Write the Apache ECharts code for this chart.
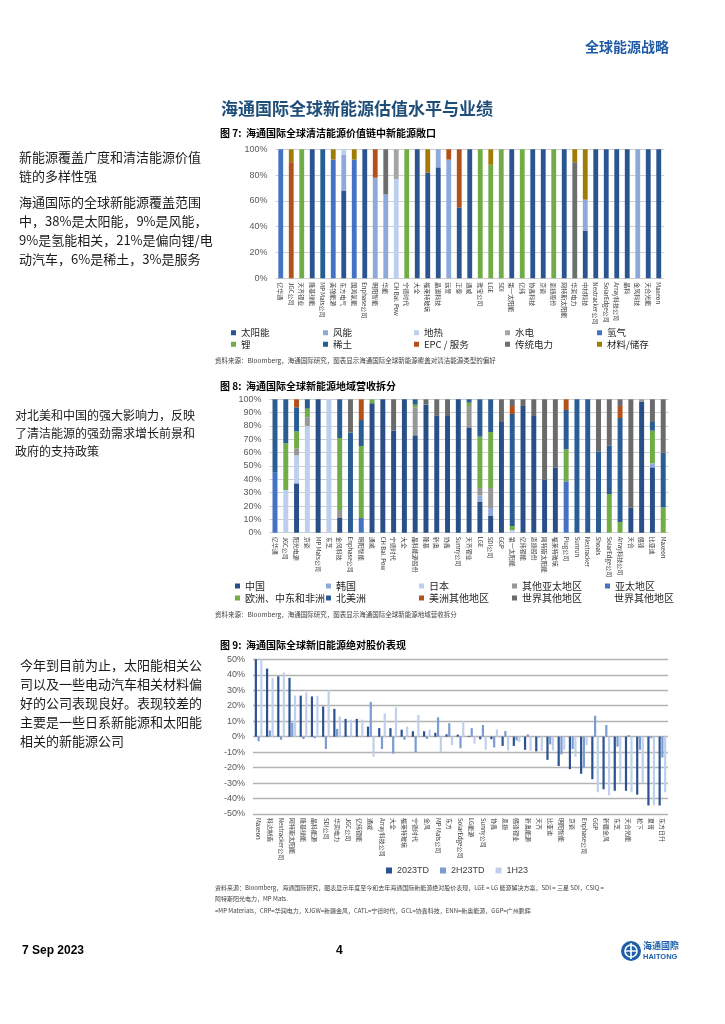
<!DOCTYPE html>
<html><head><meta charset="utf-8">
<script src="https://cdn.jsdelivr.net/npm/echarts@6/dist/echarts.min.js"></script>
<style>html,body{margin:0;padding:0;background:#fff}#c{width:725px;height:1024px}</style>
</head><body><div id="c"></div>
<script>
// ---------- Figure 7 data ----------
const fig7Categories = ['亿华通','JGC公司','天齐锂业','隆基绿能','MP Mats公司','美锦能源','东方电气','国鸿氢能','Enphase公司','明阳智能','华能','CH Bal. Pow','宁德时代','大全','福莱特玻璃','晶澳科技','远景','正泰','通威','雅宝公司','LGE','SDI','第一太阳能','亿纬','协鑫科技','京瓷','恩捷股份','阿特斯太阳能','华润电力','中材科技','Nextracker公司','SolarEdge公司','Array科技公司','晶科','金风科技','天合光能','Maxeon'];
const fig7Solar = [0,0,0,100,0,0,68,0,100,0, 0,0,0,100,82,86,0,55,100,0, 0,0,100,0,100,100,0,100,0,37, 100,100,100,100,0,100,100];
const fig7Wind  = [0,0,0,0,0,0,28,0,0,78, 65,0,0,0,0,14,92,0,0,0, 0,0,0,0,0,0,0,0,0,24, 0,0,0,0,100,0,0];
const fig7Geo   = [0,0,0,0,0,0,4,0,0,0, 0,77,0,0,0,0,0,0,0,0, 0,0,0,0,0,0,0,0,0,0, 0,0,0,0,0,0,0];
const fig7Hydro = [0,0,0,0,0,0,0,0,0,0, 0,23,0,0,0,0,0,0,0,0, 0,0,0,0,0,0,0,0,0,0, 0,0,0,0,0,0,0];
const fig7H2    = [100,0,0,0,0,92,0,92,0,0, 0,0,0,0,0,0,0,0,0,0, 0,0,0,0,0,0,0,0,0,0, 0,0,0,0,0,0,0];
const fig7Li    = [0,0,100,0,0,0,0,0,0,0, 0,0,100,0,0,0,0,0,0,100, 88,100,0,100,0,0,100,0,0,0, 0,0,0,0,0,0,0];
const fig7RE    = [0,0,0,0,100,0,0,0,0,0, 0,0,0,0,0,0,0,0,0,0, 0,0,0,0,0,0,0,0,0,0, 0,0,0,0,0,0,0];
const fig7EPC   = [0,90,0,0,0,0,0,0,0,22, 0,0,0,0,0,0,8,45,0,0, 0,0,0,0,0,0,0,0,0,0, 0,0,0,0,0,0,0];
const fig7Trad  = [0,0,0,0,0,0,0,0,0,0, 35,0,0,0,0,0,0,0,0,0, 0,0,0,0,0,0,0,0,90,0, 0,0,0,0,0,0,0];
const fig7Mat   = [0,10,0,0,0,8,0,8,0,0, 0,0,0,0,18,0,0,0,0,0, 12,0,0,0,0,0,0,0,10,39, 0,0,0,0,0,0,0];
const fig7Names = ['太阳能','风能','地热','水电','氢气','锂','稀土','EPC / 服务','传统电力','材料/储存'];
const fig7Ticks = [0,20,40,60,80,100];

// ---------- Figure 8 data ----------
const fig8Categories = ['亿华通','JGC公司','阳光电源','京瓷','MP Mats公司','东芝','金风科技','Enphase公司','明阳智能','通威','CH Bal. Pow','宁德时代','大全','晶科能源股份','隆基','新奥','协鑫','Sunny公司','天齐锂业','LGE','SDI公司','GGP','第一太阳能','亿纬锂能','恩捷股份','阿特斯太阳能','福莱特玻璃','Plug公司','Sunrun','Nextracker','Shoals','SolarEdge公司','Array科技公司','天合','赣锋','比亚迪','Maxeon'];
const fig8China   = [0,0,37,0,100,0,11,0,0,97, 100,76.5,100,73,96,88,87.5,100,79,23, 12.5,83,0,95,87.5,40,49,0,0,0, 0,0,0,19,98,49,0];
const fig8Korea   = [0,0,0,0,0,0,0,0,0,0, 0,0,0,0,0,0,0,0,0,5, 6,0,0,0,0,0,0,0,0,0, 0,0,0,0,0,3,0];
const fig8Japan   = [0,32,21,80,0,100,0,0,0,0, 0,0,0,0,0,0,0,0,0,0, 0,0,2,0,0,0,0,0,0,0, 0,0,0,0,0,0,0];
const fig8OthAPAC = [0,0,5,6.5,0,0,6,0,0,0, 0,0,0,21,0,0,0,0,16,5.5, 15,0,0,0,0,0,0,0,0,0, 0,0,0,0,2,0,0];
const fig8APAC    = [45,0,0,0,0,0,0,0,11,0, 0,0,0,0,0,0,0,0,0,0, 0,0,0,0,0,0,0,38.5,0,0, 0,0,0,0,0,0,0];
const fig8EMEA    = [0,35,13,6.5,0,0,54,0,54,3, 0,0,0,2,0,0,0,0,2.5,38.5, 42,0,3,0,0,0,0,24,0,0, 0,29,8,0,0,24.5,19];
const fig8NA      = [55,33,18,7,0,0,29,75,19.5,0, 0,0,0,4,0,0,0,0,2.5,28, 24.5,0,84,0,0,0,0,29.5,100,100, 61,36.5,78,0,0,6.5,41];
const fig8OthAm   = [0,0,6,0,0,0,0,0,15.5,0, 0,0,0,0,0,0,0,0,0,0, 0,0,6,0,0,0,0,8,0,0, 0,0,9,0,0,0,0];
const fig8RoW     = [0,0,0,0,0,0,0,25,0,0, 0,23.5,0,0,4,12,12.5,0,0,0, 0,17,5,5,12.5,60,51,0,0,0, 39,34.5,5,81,0,17,40];
const fig8Names = ['中国','韩国','日本','其他亚太地区','亚太地区','欧洲、中东和非洲','北美洲','美洲其他地区','世界其他地区'];
const fig8Ticks = [0,10,20,30,40,50,60,70,80,90,100];

// ---------- Figure 9 data ----------
const fig9Categories = ['Maxeon','科达制造','Nextracker公司','阿特斯太阳能','隆基绿能','晶科能源','SDI公司','华润电力','JGC公司','亿纬锂能','通威','Array科技公司','大全','福莱特玻璃','宁德时代','金风','MP Mats公司','东方','SolarEdge公司','LG能源','Sunny公司','协鑫','恩捷','赣锋锂业','新奥能源','天齐','比亚迪','明阳智能','京瓷','Enphase公司','GGP','新疆金风','东芝','天合光能','松下','夏普','东方日升'];
const fig9YTD = [50,44,39,38,26.5,26,19.5,18,11.5,11.5, 6.5,5.5,5.5,4.5,3.5,3.5,2.5,1.5,1.3,0.5, -1.7,-1.7,-6,-6,-8.5,-9.5,-15,-19,-21,-24, -27.5,-34,-35,-35,-37.5,-44.5,-44.5];
const fig9H2 = [-3,4,-2,9,-1.5,-1,-8,5,0.5,0, 22.5,-8,-11,-2,-10,-1.5,12.5,8.7,-7.5,5.5, 7.5,-7,3.6,-2.5,1.5,-0.5,-5,-11.5,-8,-20, 13.5,7.5,-6.5,1,-8.5,-1,-13.5];
const fig9H1 = [50,38,41.5,26.5,28.5,26.5,30,13,11,11, -13,15,19,6.5,14,4.5,-10,-5.5,10,-4.5, -8.5,4.7,-9,-3.5,-9,-9,-9,-8.5,-13,-5.5, -36,-38,-30,-36,-30,-44.5,-36];
const fig9Names = ['2023TD','2H23TD','1H23'];
const fig9Ticks = [-50,-40,-30,-20,-10,0,10,20,30,40,50];

// ---------- styling ----------
const CJK = '"Noto Sans CJK SC","Noto Sans",sans-serif';
const LAT = '"Liberation Sans","Noto Sans CJK SC",sans-serif';
const fig7Colors = ['#2a5590','#8eaadb','#bccfee','#a5a5a5','#4472c4','#70ad47','#255e91','#b4501a','#6e6e6e','#a07c05'];
const fig8Colors = ['#284f87','#8eaadb','#bccfee','#979797','#4472c4','#70ad47','#2a5d93','#b4501a','#6b6b6b'];
const fig9Colors = ['#2b5290','#7b9bd3','#c0d0ec'];

const fig7Data = [fig7Solar,fig7Wind,fig7Geo,fig7Hydro,fig7H2,fig7Li,fig7RE,fig7EPC,fig7Trad,fig7Mat];
const fig8Data = [fig8China,fig8Korea,fig8Japan,fig8OthAPAC,fig8APAC,fig8EMEA,fig8NA,fig8OthAm,fig8RoW];
const fig9Data = [fig9YTD,fig9H2,fig9H1];

const nz = a => a.map(v => v === 0 ? '-' : v);

function xAx(grid, cats) {
  return {type:'category', gridIndex:grid, data:cats, position:'bottom',
    axisLine:{show:false, onZero:false}, axisTick:{show:false},
    axisLabel:{interval:0, rotate:-90, fontSize:6, color:'#404040', margin:4, fontFamily:CJK}};
}
function yAx(grid, ticks, gridColor, gw) {
  return {type:'value', gridIndex:grid, min:ticks[0], max:ticks[ticks.length-1], interval:ticks[1]-ticks[0],
    axisLine:{show:false}, axisTick:{show:false},
    axisLabel:{formatter:'{value}%', fontSize:9, color:'#595959', margin:8, fontFamily:LAT},
    splitLine:{show:true, lineStyle:{color:gridColor, width:gw}}};
}

const series = [];
fig7Names.forEach((n,i) => series.push({name:n, type:'bar', stack:'f7', xAxisIndex:0, yAxisIndex:0,
  barWidth:'46%', data:nz(fig7Data[i]), itemStyle:{color:fig7Colors[i]}, silent:true}));
fig8Names.forEach((n,i) => series.push({name:n, type:'bar', stack:'f8', xAxisIndex:1, yAxisIndex:1,
  barWidth:'46%', data:nz(fig8Data[i]), itemStyle:{color:fig8Colors[i]}, silent:true}));
fig9Names.forEach((n,i) => series.push({name:n, type:'bar', xAxisIndex:2, yAxisIndex:2,
  barWidth:2.2, barGap:'25%', data:fig9Data[i], itemStyle:{color:fig9Colors[i]}, silent:true}));

function leg(name, x, y, fs, font) {
  return {data:[name], left:x, top:y, padding:0, icon:'rect', itemWidth:5, itemHeight:5, selectedMode:false,
    textStyle:{fontSize:fs, color:'#262626', fontFamily:font||CJK}};
}
const legends = [];
const colX7 = [231, 323, 414, 505, 597];
fig7Names.forEach((n,i) => legends.push(leg(n, colX7[i%5], i<5 ? 328 : 339.5, 9.5)));
const colX8 = [235, 326, 419, 512, 605];
fig8Names.forEach((n,i) => legends.push(leg(n, colX8[i%5], i<5 ? 581 : 593, 10)));
legends.push({data:fig9Names, left:386, top:866, padding:0, icon:'rect', itemWidth:6, itemHeight:6, itemGap:11,
  selectedMode:false, textStyle:{fontSize:9, color:'#404040', fontFamily:LAT}});

function txt(t, x, y, fs, opt) {
  opt = opt || {};
  return {type:'text', x:x, y:y, silent:true, style:{text:t, fontSize:fs, fontFamily:opt.font||CJK,
    fontWeight:opt.bold?'bold':'normal', fill:opt.color||'#1a1a1a', verticalAlign:'middle', align:opt.align||'left'}};
}
const graphics = [
  txt('全球能源战略', 585, 47, 14, {bold:true, color:'#1f5aa6'}),
  txt('海通国际全球新能源估值水平与业绩', 221, 109, 17, {bold:true, color:'#1f4e79'}),
  txt('图 7:  海通国际全球清洁能源价值链中新能源敞口', 220, 133, 10, {bold:true, color:'#000'}),
  txt('新能源覆盖广度和清洁能源价值', 19, 157, 13),
  txt('链的多样性强', 19, 176, 13),
  txt('海通国际的全球新能源覆盖范围', 19, 202, 13),
  txt('中，38%是太阳能，9%是风能，', 19, 221, 13),
  txt('9%是氢能相关，21%是偏向锂/电', 19, 240, 13),
  txt('动汽车，6%是稀土，3%是服务', 19, 259, 13),
  txt('资料来源：Bloomberg，海通国际研究，图表显示海通国际全球新能源覆盖对清洁能源类型的偏好', 215, 361, 6.5, {color:'#404040'}),
  txt('图 8:  海通国际全球新能源地域营收拆分', 220, 386, 10, {bold:true, color:'#000'}),
  txt('对北美和中国的强大影响力，反映', 15, 415, 12),
  txt('了清洁能源的强劲需求增长前景和', 15, 433, 12),
  txt('政府的支持政策', 15, 451, 12),
  txt('世界其他地区', 614, 598.5, 10, {color:'#262626'}),
  txt('资料来源：Bloomberg，海通国际研究，图表显示海通国际全球新能源地域营收拆分', 215, 615, 6.5, {color:'#404040'}),
  txt('图 9:  海通国际全球新旧能源绝对股价表现', 220, 645, 10, {bold:true, color:'#000'}),
  txt('今年到目前为止，太阳能相关公', 20, 665, 13),
  txt('司以及一些电动汽车相关材料偏', 20, 684, 13),
  txt('好的公司表现良好。表现较差的', 20, 703, 13),
  txt('主要是一些日系新能源和太阳能', 20, 722, 13),
  txt('相关的新能源公司', 20, 741, 13),
  txt('资料来源：Bloomberg，海通国际研究，图表显示年度至今和去年海通国际新能源绝对股价表现，LGE = LG 能源解决方案，SDI = 三星 SDI，CSIQ =', 215, 888, 6, {color:'#404040'}),
  txt('阿特斯阳光电力，MP Mats.', 215, 899, 6, {color:'#404040'}),
  txt('=MP Materials，CRP=华润电力，XJGW=新疆金风，CATL=宁德时代，GCL=协鑫科技，ENN=新奥能源，GGP=广州鹏辉', 215, 911, 6, {color:'#404040'}),
  txt('7 Sep 2023', 22, 951, 12, {bold:true, color:'#000', font:LAT}),
  txt('4', 336, 951, 12, {bold:true, color:'#000', font:LAT}),
  {type:'circle', shape:{cx:631, cy:951, r:10}, style:{fill:'#1d5fa8'}, silent:true},
  {type:'circle', shape:{cx:631, cy:951, r:6}, style:{fill:'none', stroke:'#fff', lineWidth:1.6}, silent:true},
  {type:'line', shape:{x1:631, y1:943, x2:631, y2:959}, style:{stroke:'#fff', lineWidth:1.6}, silent:true},
  {type:'line', shape:{x1:625, y1:951, x2:637, y2:951}, style:{stroke:'#fff', lineWidth:1.4}, silent:true},
  txt('海通國際', 643, 946, 9, {bold:true, color:'#1d5fa8'}),
  txt('HAITONG', 643, 957, 7.5, {bold:true, color:'#1d5fa8', font:LAT})
];

const chart = echarts.init(document.getElementById('c'), null, {renderer:'canvas'});
chart.setOption({
  animation:false,
  backgroundColor:'#fff',
  grid:[
    {left:275.5, top:149.3, width:388.5, height:129},
    {left:269.6, top:399.3, width:399, height:133.4},
    {left:253, top:659.3, width:415, height:154.7}
  ],
  xAxis:[xAx(0, fig7Categories), xAx(1, fig8Categories), xAx(2, fig9Categories)],
  yAxis:[yAx(0, fig7Ticks, '#cfcfcf', 1), yAx(1, fig8Ticks, '#cfcfcf', 1), yAx(2, fig9Ticks, '#b3b3b3', 1.4)],
  legend:legends,
  series:series,
  graphic:graphics
});
</script></body></html>
